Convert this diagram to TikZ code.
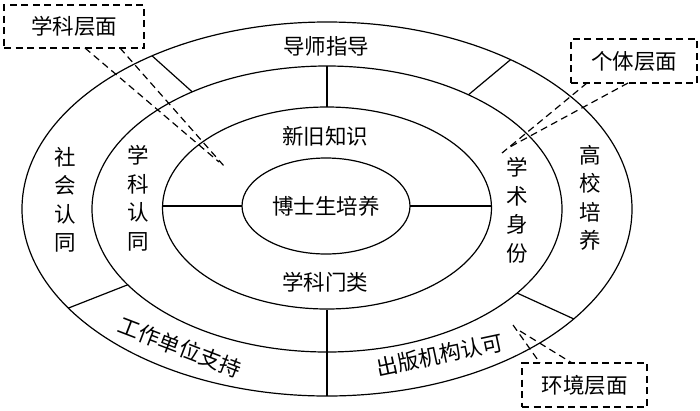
\documentclass[tikz,border=0pt]{standalone}
\usepackage{fontspec}
\newfontfamily\cjk{Noto Sans CJK SC}
\usetikzlibrary{shapes.geometric}
\begin{document}
\begin{tikzpicture}[x=1pt,y=-1pt,
  ring/.style={draw, ellipse, line width=1.2pt, inner sep=0pt, outer sep=0pt},
  divider/.style={line width=1.2pt},
  lbl/.style={font=\cjk\fontsize{21.5}{28.5}\selectfont, inner sep=0pt, align=center},
  levelbox/.style={draw, line width=1.2pt, dash pattern=on 7pt off 4.5pt, inner sep=0pt,
     font=\cjk\fontsize{21.5}{24}\selectfont},
  leader/.style={line width=1.2pt, dash pattern=on 7pt off 4.5pt}]
\useasboundingbox (0,0) rectangle (700,410);
% ellipses
\node[ring, minimum width=610pt, minimum height=374pt] (outer) at (327,209) {};
\node[ring, minimum width=470pt, minimum height=286pt] (mid) at (327,209) {};
\node[ring, minimum width=329pt, minimum height=202pt] (inner) at (327,208) {};
\node[ring, minimum width=168pt, minimum height=96pt, lbl] (core) at (326,206) {博士生培养};
% divider coordinates
\coordinate (t1) at (327,107);
\coordinate (t2) at (327,66);
\coordinate (b1) at (327,310);
\coordinate (b2) at (327,396);
\coordinate (hl1) at (162.5,206);
\coordinate (hr1) at (491.5,206);
\coordinate (tla) at ({327+235*cos(125)},{209-143*sin(125)});
\coordinate (tlb) at ({327+305*cos(125)},{209-187*sin(125)});
\coordinate (tra) at ({327+235*cos(53)},{209-143*sin(53)});
\coordinate (trb) at ({327+305*cos(53)},{209-187*sin(53)});
\coordinate (bra) at ({327+235*cos(-36)},{209-143*sin(-36)});
\coordinate (brb) at ({327+305*cos(-36)},{209-187*sin(-36)});
\coordinate (bla) at ({327+235*cos(-148)},{209-143*sin(-148)});
\coordinate (blb) at ({327+305*cos(-148)},{209-187*sin(-148)});
\draw[divider] (t1) -- (t2);
\draw[divider] (b1) -- (b2);
\draw[divider] (hl1) -- (core.west);
\draw[divider] (core.east) -- (hr1);
\draw[divider] (tla) -- (tlb);
\draw[divider] (tra) -- (trb);
\draw[divider] (bra) -- (brb);
\draw[divider] (bla) -- (blb);
% labels
\node[lbl] (l1) at (326,46) {导师指导};
\node[lbl] (l2) at (325,136) {新旧知识};
\node[lbl] (l3) at (325,282) {学科门类};
\node[lbl] (l4) at (65,200) {社\\会\\认\\同};
\node[lbl] (l5) at (138,198) {学\\科\\认\\同};
\node[lbl] (l6) at (517,210) {学\\术\\身\\份};
\node[lbl] (l7) at (590,198) {高\\校\\培\\养};
\node[lbl, rotate=-21] (l8) at (180,347) {工作单位支持};
\node[lbl, rotate=12] (l9) at (440,355) {出版机构认可};
% level boxes
\node[levelbox, minimum width=140pt, minimum height=43pt] (bx1) at (74,26.5) {学科层面};
\node[levelbox, minimum width=126pt, minimum height=44pt] (bx2) at (634,61) {个体层面};
\node[levelbox, minimum width=125pt, minimum height=44pt] (bx3) at (584.5,385) {环境层面};
% leaders
\coordinate (a1) at (85,48);
\coordinate (a2) at (120,48);
\coordinate (a1e) at (219,162);
\coordinate (a2e) at (224,166);
\draw[leader] (a1) -- (a1e);
\draw[leader] (a2) -- (a2e);
\coordinate (c1) at (587,83);
\coordinate (c2) at (628,83);
\coordinate (c1e) at (502,153);
\coordinate (c2e) at (508,148);
\draw[leader] (c1) -- (c1e);
\draw[leader] (c2) -- (c2e);
\coordinate (e1) at (540,363);
\coordinate (e2) at (572,363);
\coordinate (e1s) at (513,325);
\coordinate (e2s) at (520,331);
\draw[leader] (e1s) -- (e1);
\draw[leader] (e2s) -- (e2);
\end{tikzpicture}
\end{document}
